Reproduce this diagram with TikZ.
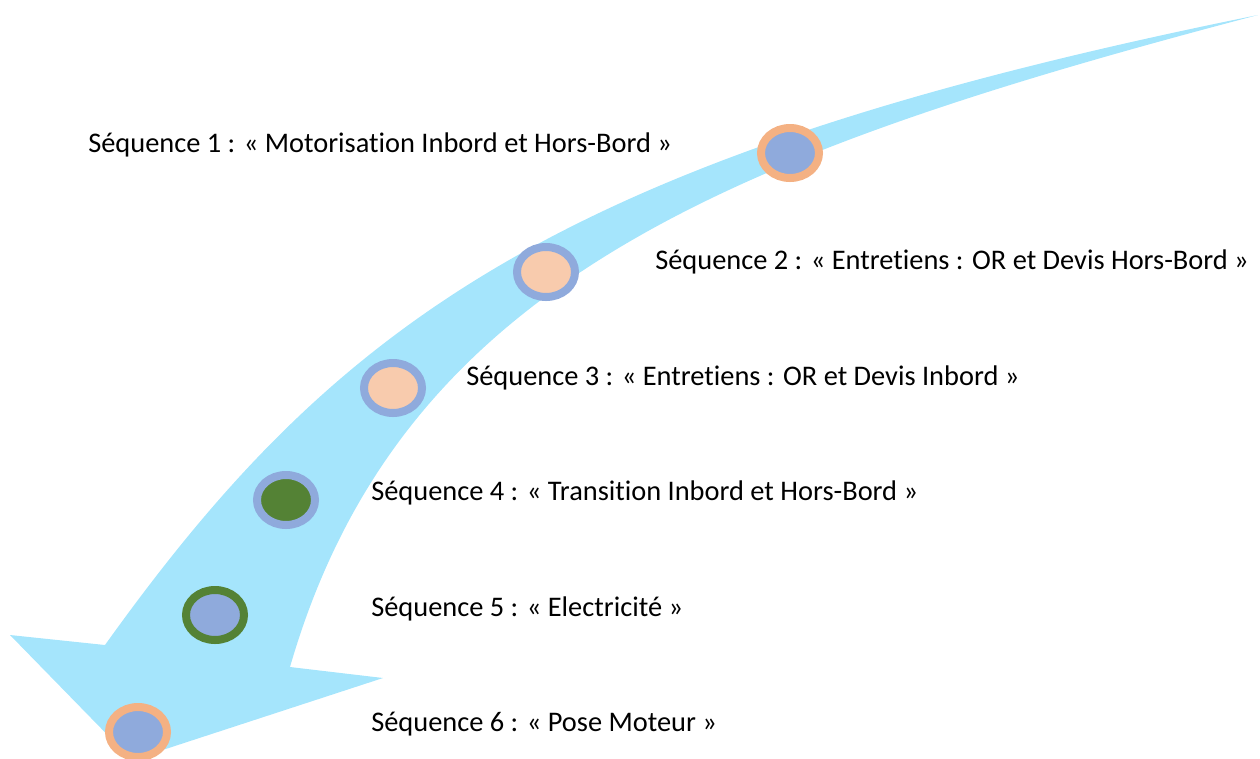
\documentclass[tikz,border=0pt]{standalone}
\usepackage{fontspec}
\setmainfont{Carlito}[Ligatures=NoCommon]
\usetikzlibrary{shapes.geometric}

\definecolor{bandblue}{HTML}{A5E5FC}
\definecolor{ringorange}{HTML}{F4B183}
\definecolor{softblue}{HTML}{8FAADC}
\definecolor{peach}{HTML}{F8CBAD}
\definecolor{leaf}{HTML}{548235}

\begin{document}
\begin{tikzpicture}[x=0.75pt, y=-0.75pt]
\tikzstyle{band} = [fill=bandblue];
\tikzstyle{dot} = [ellipse, line width=6pt, minimum width=43.5pt, minimum height=37.5pt, inner sep=0pt];
\tikzstyle{lbl} = [anchor=west, inner sep=0pt, font=\fontsize{21.3}{25}\selectfont];

\useasboundingbox (0,0) rectangle (1260,758);

% curved arrow
\fill[band] (1258,15) .. controls (560,156) and (337,321) .. (105,645)
  -- (10,635) -- (132,760) -- (383,678) -- (290,667)
  .. controls (401,283) and (726,155) .. (1258,15) -- cycle;

% steps
\node[dot, draw=ringorange, fill=softblue] (d1) at (790,153) {};
\node[dot, draw=softblue, fill=peach] (d2) at (546,272) {};
\node[dot, draw=softblue, fill=peach] (d3) at (393,388) {};
\node[dot, draw=softblue, fill=leaf] (d4) at (286,500) {};
\node[dot, draw=leaf, fill=softblue] (d5) at (215,615) {};
\node[dot, draw=ringorange, fill=softblue] (d6) at (138,732) {};

\node[lbl] (s1) at (88,145) {Séquence 1 : « Motorisation Inbord et Hors-Bord »};
\node[lbl] (s2) at (655,262) {Séquence 2 : « Entretiens : OR et Devis Hors-Bord »};
\node[lbl] (s3) at (466,378) {Séquence 3 : « Entretiens : OR et Devis Inbord »};
\node[lbl] (s4) at (371,493) {Séquence 4 : « Transition Inbord et Hors-Bord »};
\node[lbl] (s5) at (371,609) {Séquence 5 : « Electricité »};
\node[lbl] (s6) at (371,724) {Séquence 6 : « Pose Moteur »};
\end{tikzpicture}
\end{document}
